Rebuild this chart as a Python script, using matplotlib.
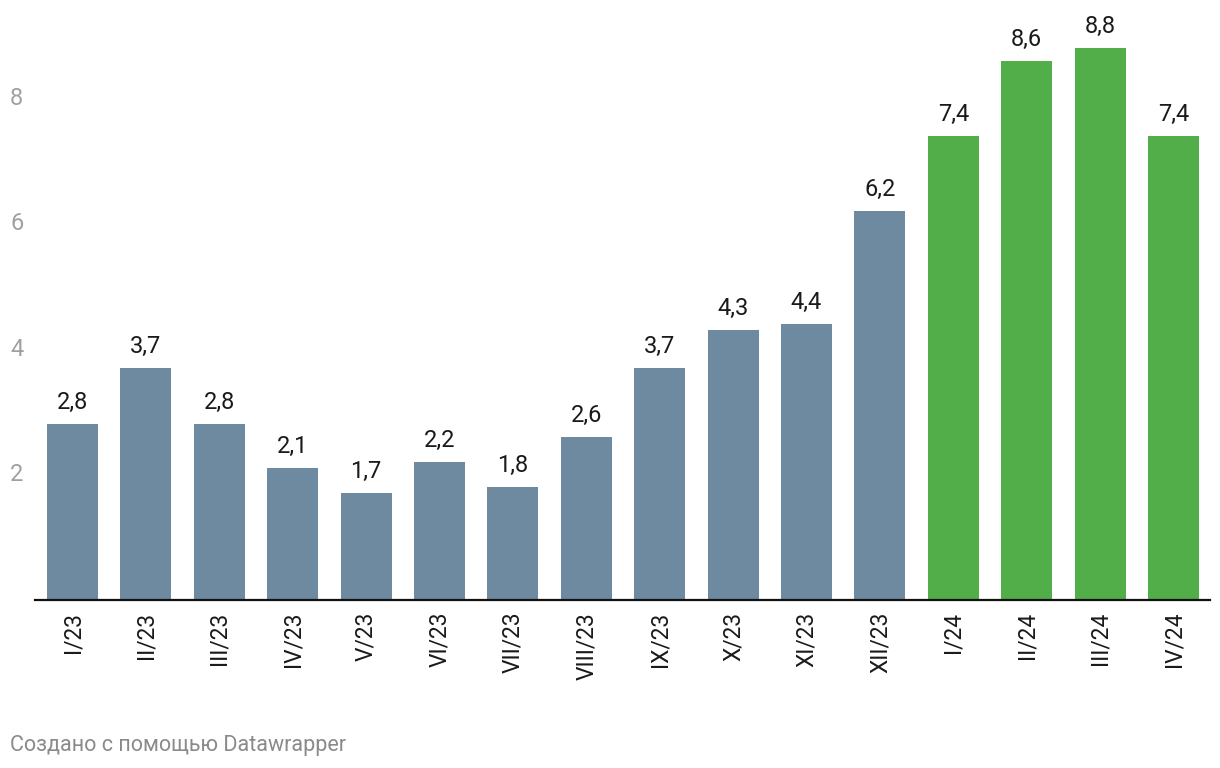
import matplotlib
matplotlib.use("Agg")
import matplotlib.pyplot as plt
import matplotlib.transforms as mtransforms

plt.rcParams['font.family'] = ['Roboto', 'DejaVu Sans']

categories = ["I/23", "II/23", "III/23", "IV/23", "V/23", "VI/23", "VII/23", "VIII/23",
              "IX/23", "X/23", "XI/23", "XII/23", "I/24", "II/24", "III/24", "IV/24"]
values = [2.8, 3.7, 2.8, 2.1, 1.7, 2.2, 1.8, 2.6, 3.7, 4.3, 4.4, 6.2, 7.4, 8.6, 8.8, 7.4]
is_2024 = [c.endswith("/24") for c in categories]
ytick_values = [2, 4, 6, 8]
footer = "Создано с помощью Datawrapper"

blue = "#6e8aa1"
green = "#51ae48"

fig = plt.figure(figsize=(12.2, 7.68), dpi=100)
ax = fig.add_axes([35/1220, 1 - 600/768, (1210 - 35)/1220, 600/768])

n = len(categories)
xs = list(range(n))
colors = [green if g else blue for g in is_2024]
ax.bar(xs, values, width=0.695, color=colors, zorder=2)

ax.set_xlim(-0.511, n - 1 + 0.497)
ax.set_ylim(0, 9.57)

for x, v in zip(xs, values):
    ax.annotate(f"{v:.1f}".replace(".", ","), (x, v), xytext=(0, 10.8),
                textcoords="offset points", ha="center", va="baseline",
                fontsize=17, color="#1a1a1a")

for s in ["top", "right", "left"]:
    ax.spines[s].set_visible(False)
ax.spines["bottom"].set_linewidth(1.6)
ax.spines["bottom"].set_color("#111111")
ax.set_yticks([])
ax.set_xticks(xs)
ax.set_xticklabels(categories, rotation=90, fontsize=16.4, color="#1a1a1a")
ax.tick_params(axis="x", length=0, pad=8.5)

trans = mtransforms.blended_transform_factory(fig.transFigure, ax.transData)
for t in ytick_values:
    ax.text(10/1220, t, str(t), transform=trans, ha="left", va="center",
            fontsize=17, color="#a0a0a0")

fig.text(10/1220, 1 - 745/768, footer, ha="left", va="center", fontsize=15.5, color="#8a8a8a")

fig.savefig("out.png", dpi=100)
